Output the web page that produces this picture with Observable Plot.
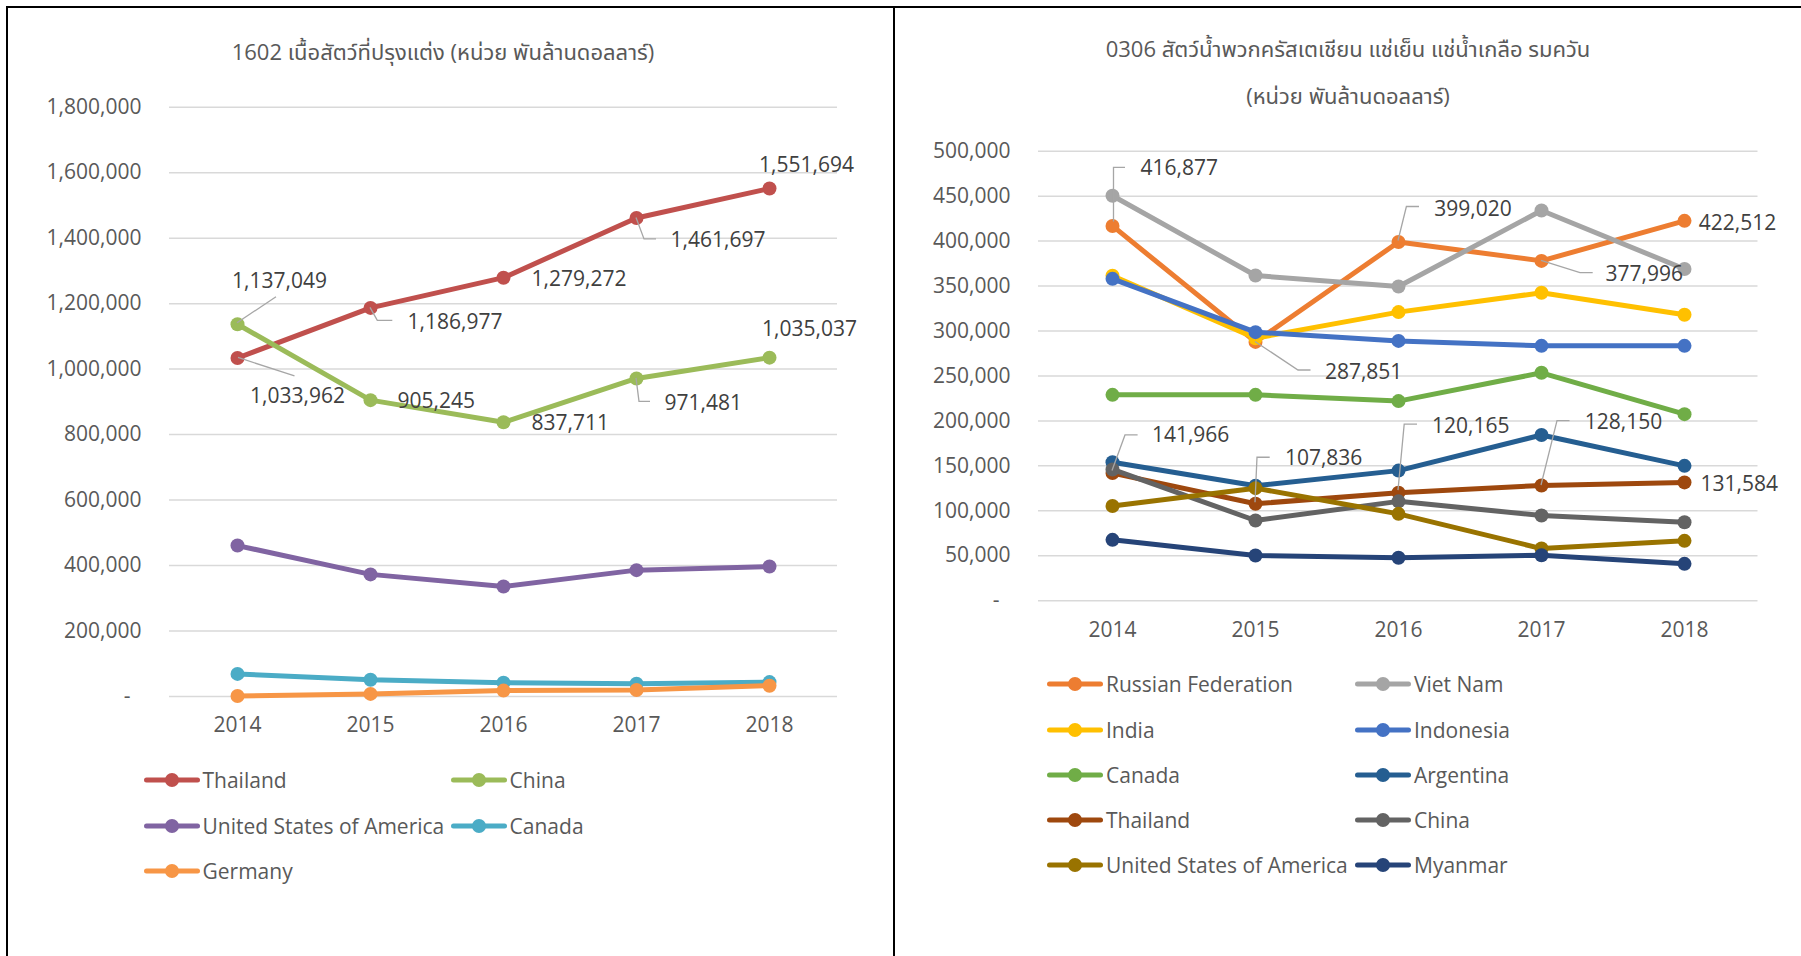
<!DOCTYPE html>
<html><head><meta charset="utf-8">
<script src="https://cdn.jsdelivr.net/npm/d3@7"></script>
<script src="https://cdn.jsdelivr.net/npm/@observablehq/plot@0.6"></script>
<style>
html,body{margin:0;padding:0;background:#fff;}
#page{position:relative;width:1801px;height:956px;overflow:hidden;font-family:'Open Sans','Noto Sans Thai','Noto Sans',sans-serif;}
.rule{position:absolute;background:#000;}
.title{position:absolute;color:#595959;font-size:22px;line-height:30px;white-space:nowrap;transform:translate(-50%,-50%);}
.leg{position:absolute;display:flex;align-items:center;height:30px;font-size:21px;color:#595959;white-space:nowrap;}
.leg svg{display:block;margin-right:3px;}
.chart{position:absolute;top:0;}
</style></head>
<body><div id="page"></div>
<script>
// ---------- data ----------
const years = [2014, 2015, 2016, 2017, 2018];

const meatTitle = "1602 เนื้อสัตว์ที่ปรุงแต่ง (หน่วย พันล้านดอลลาร์)";
const meatNames = ["Thailand", "China", "United States of America", "Canada", "Germany"];
const meatThailand = [1033962, 1186977, 1279272, 1461697, 1551694];
const meatChina = [1137049, 905245, 837711, 971481, 1035037];
const meatUSA = [461000, 373000, 336000, 386000, 397000];
const meatCanada = [69000, 51000, 42000, 39000, 44000];
const meatGermany = [1500, 8000, 18000, 20000, 33000];
const meatTicks = [0, 200000, 400000, 600000, 800000, 1000000, 1200000, 1400000, 1600000, 1800000];

const crustTitle1 = "0306 สัตว์น้ำพวกครัสเตเชียน แช่เย็น แช่น้ำเกลือ รมควัน";
const crustTitle2 = "(หน่วย พันล้านดอลลาร์)";
const crustNames = ["Russian Federation", "Viet Nam", "India", "Indonesia", "Canada", "Argentina", "Thailand", "China", "United States of America", "Myanmar"];
const crustRussia = [416877, 287851, 399020, 377996, 422512];
const crustVietNam = [450500, 361700, 349500, 434000, 369000];
const crustIndia = [361500, 292000, 321000, 342500, 318000];
const crustIndonesia = [358000, 298700, 289000, 283500, 283500];
const crustCanada = [229000, 229000, 222000, 253500, 207500];
const crustArgentina = [154000, 127800, 144700, 184300, 150000];
const crustThailand = [141966, 107836, 120165, 128150, 131584];
const crustChina = [146000, 89200, 110500, 94800, 87300];
const crustUSA = [105300, 125200, 96600, 58000, 66600];
const crustMyanmar = [67700, 50300, 47700, 50600, 41000];
const crustTicks = [0, 50000, 100000, 150000, 200000, 250000, 300000, 350000, 400000, 450000, 500000];

// ---------- styles & layout ----------
const meatColors = ["#c0504d", "#9bbb59", "#8064a2", "#4bacc6", "#f79646"];
const crustColors = ["#ed7d31", "#a5a5a5", "#ffc000", "#4472c4", "#70ad47", "#255e91", "#9e480e", "#636363", "#997300", "#264478"];

const meatLabels = [
  {s:0, year:2014, anchor:"middle", dx:60, dy:38.5, leader:[[1,0],[57.5,18.5]]},
  {s:0, year:2015, anchor:"start", dx:37, dy:14.7, leader:[[0,0],[7.3,13],[22.3,13]]},
  {s:0, year:2016, anchor:"start", dx:28, dy:2},
  {s:0, year:2017, anchor:"start", dx:34, dy:22, leader:[[0,0],[8,21.5],[20,21.5]]},
  {s:0, year:2018, anchor:"middle", dx:37, dy:-23},
  {s:1, year:2014, anchor:"middle", dx:42, dy:-43, leader:[[0,-1],[39,-27]]},
  {s:1, year:2015, anchor:"start", dx:27, dy:1},
  {s:1, year:2016, anchor:"start", dx:28, dy:1},
  {s:1, year:2017, anchor:"start", dx:28, dy:24.6, leader:[[0,0],[3,23.5],[14,23.5]]},
  {s:1, year:2018, anchor:"middle", dx:40, dy:-28}
];
const crustLabels = [
  {s:0, year:2014, anchor:"start", dx:28, dy:-57.5, leader:[[1.5,-4],[1.5,-58],[13,-58]]},
  {s:0, year:2015, anchor:"start", dx:69.4, dy:30.3, leader:[[0,0],[43,28.6],[55.5,28.6]]},
  {s:0, year:2016, anchor:"start", dx:35.7, dy:-33.2, leader:[[0,-1],[8.4,-35],[21,-35]]},
  {s:0, year:2017, anchor:"start", dx:64, dy:13, leader:[[0,0],[39,12.3],[51.7,12.3]]},
  {s:0, year:2018, anchor:"start", dx:14.3, dy:2},
  {s:6, year:2014, anchor:"start", dx:39.4, dy:-37.6, leader:[[0,-2],[13,-37.6],[25.6,-37.6]]},
  {s:6, year:2015, anchor:"start", dx:29.4, dy:-45, leader:[[0,-1],[2,-46],[14.7,-46]]},
  {s:6, year:2016, anchor:"start", dx:33.6, dy:-66.2, leader:[[0,-2],[6.2,-68],[19,-68]]},
  {s:6, year:2017, anchor:"start", dx:43.2, dy:-63.3, leader:[[0,0],[16,-64.3],[28.5,-64.3]]},
  {s:6, year:2018, anchor:"start", dx:16, dy:1.5}
];

const fmt = d3.format(",");
const FONT = "'Open Sans','Noto Sans Thai','Noto Sans',sans-serif";
const FS = 21;

function buildChart(cfg) {
  const marks = [Plot.gridY(cfg.ticks, {stroke: "#d9d9d9", strokeOpacity: 1, strokeWidth: 1.5})];
  cfg.series.forEach((vals, si) => {
    const rows = years.map((yr, i) => ({year: yr, value: vals[i]}));
    marks.push(Plot.line(rows, {x: "year", y: "value", stroke: cfg.colors[si], strokeWidth: 5, strokeLinejoin: "round", strokeLinecap: "round"}));
    marks.push(Plot.dot(rows, {x: "year", y: "value", r: 7, fill: cfg.colors[si]}));
  });
  marks.push(Plot.axisY(cfg.ticks, {tickSize: 0, tickPadding: 28, fontSize: FS, label: null,
    tickFormat: d => d === 0 ? "-\u00a0\u00a0" : fmt(d)}));
  marks.push(Plot.axisX(years, {tickSize: 0, tickPadding: 21, fontSize: FS, label: null, tickFormat: d => String(d)}));
  // leader lines
  marks.push((index, scales) => {
    const g = d3.create("svg:g");
    for (const l of cfg.labels) {
      if (!l.leader) continue;
      const x0 = scales.x(l.year);
      const y0 = scales.y(cfg.series[l.s][years.indexOf(l.year)]);
      g.append("polyline")
        .attr("points", l.leader.map(([dx, dy]) => `${x0 + dx},${y0 + dy}`).join(" "))
        .attr("fill", "none").attr("stroke", "#a6a6a6").attr("stroke-width", 1.3);
    }
    return g.node();
  });
  for (const l of cfg.labels) {
    const v = cfg.series[l.s][years.indexOf(l.year)];
    marks.push(Plot.text([{year: l.year, value: v}], {x: "year", y: "value", text: d => fmt(d.value),
      dx: l.dx, dy: l.dy, textAnchor: l.anchor, fontSize: FS, fill: "#404040"}));
  }
  return Plot.plot({
    width: cfg.width, height: cfg.height,
    marginLeft: cfg.ml, marginRight: cfg.mr, marginTop: cfg.mt, marginBottom: cfg.mb,
    x: {type: "point", domain: years, padding: 0.5},
    y: {domain: [0, cfg.ticks[cfg.ticks.length - 1]]},
    style: {fontFamily: FONT, fontSize: FS + "px", color: "#595959", background: "transparent", overflow: "visible"},
    marks
  });
}

const page = document.getElementById("page");

function addChart(svg, left) {
  const wrap = document.createElement("div");
  wrap.className = "chart";
  wrap.style.left = left + "px";
  wrap.appendChild(svg);
  page.appendChild(wrap);
}

addChart(buildChart({
  series: [meatThailand, meatChina, meatUSA, meatCanada, meatGermany],
  colors: meatColors, ticks: meatTicks, labels: meatLabels,
  width: 893, height: 760, ml: 169, mr: 56, mt: 106.7, mb: 64
}), 0);

addChart(buildChart({
  series: [crustRussia, crustVietNam, crustIndia, crustIndonesia, crustCanada, crustArgentina, crustThailand, crustChina, crustUSA, crustMyanmar],
  colors: crustColors, ticks: crustTicks, labels: crustLabels,
  width: 908, height: 680, ml: 145, mr: 43.5, mt: 150.7, mb: 79.8
}), 893);

function addTitle(text, cx, cy) {
  const d = document.createElement("div");
  d.className = "title";
  d.textContent = text;
  d.style.left = cx + "px";
  d.style.top = cy + "px";
  page.appendChild(d);
}
addTitle(meatTitle, 443, 51);
addTitle(crustTitle1, 1348, 48);
addTitle(crustTitle2, 1348, 95);

function addLegend(names, colors, cols, rows) {
  names.forEach((name, i) => {
    const c = i % 2, r = Math.floor(i / 2);
    const d = document.createElement("div");
    d.className = "leg";
    d.style.left = cols[c] + "px";
    d.style.top = (rows[r] - 15) + "px";
    d.innerHTML = `<svg width="56" height="18"><line x1="2.5" y1="9" x2="53.5" y2="9" stroke="${colors[i]}" stroke-width="5" stroke-linecap="round"/><circle cx="28" cy="9" r="7" fill="${colors[i]}"/></svg><span></span>`;
    d.querySelector("span").textContent = name;
    page.appendChild(d);
  });
}
addLegend(meatNames, meatColors, [143.5, 450.6], [780, 825.7, 870.7]);
addLegend(crustNames, crustColors, [1047, 1355], [684.3, 729.7, 775, 820, 865]);

function rule(l, t, w, h) {
  const d = document.createElement("div");
  d.className = "rule";
  Object.assign(d.style, {left: l + "px", top: t + "px", width: w + "px", height: h + "px"});
  page.appendChild(d);
}
rule(6, 5.7, 1795, 2.2);
rule(6, 5.7, 2, 951);
rule(892.7, 5.7, 2, 951);
</script></body></html>
